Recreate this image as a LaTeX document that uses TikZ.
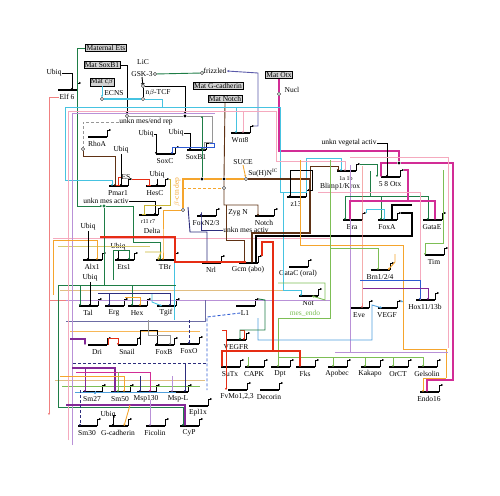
\documentclass[tikz,border=0pt]{standalone}
\usepackage{fontspec}
\setmainfont{Liberation Serif}
\usetikzlibrary{arrows.meta}

\definecolor{cyanl}{RGB}{70,195,225}
\definecolor{pinkl}{RGB}{245,170,190}
\definecolor{salmonl}{RGB}{240,128,128}
\definecolor{magl}{RGB}{210,45,150}
\definecolor{purpl}{RGB}{130,40,150}
\definecolor{lavl}{RGB}{185,145,215}
\definecolor{dgreen}{RGB}{30,125,70}
\definecolor{lgreen}{RGB}{125,190,85}
\definecolor{orangel}{RGB}{245,165,45}
\definecolor{brownl}{RGB}{95,50,20}
\definecolor{redl}{RGB}{230,45,20}
\definecolor{bluel}{RGB}{45,90,210}
\definecolor{navyl}{RGB}{45,45,125}
\definecolor{olivel}{RGB}{200,180,50}
\definecolor{grayl}{RGB}{150,150,150}
\definecolor{slatel}{RGB}{90,90,170}
\definecolor{skyl}{RGB}{80,160,220}
\definecolor{tanl}{RGB}{225,190,130}
\newcommand{\fs}{\fontsize{7.5}{8}\selectfont}
\newcommand{\fss}{\fontsize{6}{6}\selectfont}

\begin{document}
\begin{tikzpicture}[x=1pt,y=-1pt]
  \tikzstyle{lbl}=[font=\fs,inner sep=0.3pt]
  \tikzstyle{matbox}=[draw,fill=gray!35,font=\fs,inner sep=1pt,line width=0.5pt]
  \tikzstyle{genebar}=[line width=1.6pt]
  \tikzstyle{prom}=[line width=0.7pt,-{Stealth[length=2.2pt,width=2.4pt]}]
  \tikzstyle{wire}=[line width=0.9pt]
  \tikzstyle{act}=[wire,-{Stealth[length=2.2pt,width=2.4pt]}]
  \tikzstyle{rep}=[wire,-{Bar[width=3.5pt]}]
  \tikzstyle{hub}=[circle,draw,fill=white,inner sep=0pt,minimum size=3.2pt,line width=0.4pt]
  \tikzstyle{dot}=[circle,fill=black,inner sep=0pt,minimum size=3.4pt]
  \useasboundingbox (0,0) rectangle (500,495);

  % maternal inputs
  \node[matbox] (matets) at (106,48) {Maternal Ets};
  \node[matbox] (matsox) at (102,65) {Mat SoxB1};
  \node[matbox] (matcb) at (102,82) {Mat c$\beta$};
  \node[matbox] (matgcad) at (218,86) {Mat G-cadherin};
  \node[matbox] (matnotch) at (225,99) {Mat Notch};
  \node[matbox] (matotx) at (279,75) {Mat Otx};

  % plain labels
  \foreach \n/\x/\y/\t in {ubq1/54/73/Ubiq, lic/143/62/LiC, gsk/142/74/GSK-3,
      friz/215/71/frizzled, ecns/114/93/ECNS, ntcf/158/93/{n$\beta$-TCF},
      nucl/292/90/Nucl, unkrep/146/122/{unkn mes/end rep}, ubq2/146/134/Ubiq,
      ubq3/176/133/Ubiq, ubq4/121/150/Ubiq, es/126/177/ES, ubq5/157/175/Ubiq,
      unkmes/106/201/{unkn mes activ}, dlt/152/231/Delta, suce/243/162/SUCE,
      suhn/263/173/{Su(H)N$^{\mathrm{IC}}$}, uveg/349/143/{unkn vegetal activ},
      krox/340/187/{Blimp1/Krox}, zygn/238/213/{Zyg N}, unkmes2/246/230/{unkn mes activ},
      ubq6/88/227/Ubiq, ubq7/118/247/Ubiq, ubq8/90/278/Ubiq, ubq9/108/415/Ubiq}
    \node[lbl] (\n) at (\x,\y) {\t};
  \node[lbl,text=lgreen] (mesendo) at (305,313) {mes\_endo};
  \node[lbl,text=orangel,rotate=90] (bctn) at (177,192) {$\beta$-ctn dep};

  % genes
  \foreach \n/\x/\y/\t in {elf6/67/97/{Elf 6}, wnt8/240/140/Wnt8, rhoa/97/144/RhoA,
      soxc/165/161/SoxC, soxb1/196/157/SoxB1, pmar1/118/193/Pmar1, hesc/155/193/HesC,
      delta/148/222/{\fss r11 r7}, z13/296/204/z13, blimp/346/178/{\fss 1a 1b}, otx/390/184/{5 8 Otx},
      foxn/206/223/{FoxN2/3}, notch/264/223/Notch, bra/352/227/Bra, foxa/387/227/FoxA,
      gatae/432/227/GataE, tim/434/262/Tim, alx1/92/267/Alx1, ets1/124/267/Ets1,
      tbr/165/267/TBr, nrl/211/270/Nrl, gcm/248/270/{Gcm (abo)}, gatac/298/274/{GataC (oral)},
      brn/380/277/{Brn1/2/4}, tal/88/313/Tal, erg/114/313/Erg, hex/137/313/Hex,
      tgif/166/313/Tgif, not/308/303/Not, l1/245/313/L1, vegfr/236/347/VEGFR,
      hox/425/307/{Hox11/13b}, eve/359/315/Eve, vegf/387/315/VEGF, dri/97/352/Dri,
      snail/127/352/Snail, foxb/164/352/FoxB, foxo/189/351/FoxO, sutx/230/374/SuTx,
      capk/254/374/CAPK, dpt/280/374/Dpt, fks/305/374/Fks, apobec/337/374/Apobec,
      kakapo/370/374/Kakapo, orct/398/374/OrCT, gelsolin/427/374/Gelsolin,
      sm27/92/399/Sm27, sm50/120/399/Sm50, msp130/146/399/Msp130, mspl/178/399/Msp-L,
      fvmo/237/397/{FvMo1,2,3}, decorin/269/397/Decorin, endo16/429/399/Endo16,
      epl1x/198/413/Epl1x, sm30/87/433/Sm30, gcad/118/433/G-cadherin,
      ficolin/155/433/Ficolin, cyp/189/433/CyP}{
    \node[lbl] (\n) at (\x,\y) {\t};
    \draw[genebar] (\x-9,\y-7) -- (\x+10,\y-7);
    \draw[prom] (\x+10,\y-7) -- (\x+10,\y-14) -- (\x+14,\y-14);
    \coordinate (\n-in) at (\x,\y-7);
    \coordinate (\n-out) at (\x+14,\y-14);
  }

  % hubs
  \node[hub] (hubsox) at (127,116) {};
  \node[hub] (hubcb) at (102,99) {};
  \node[hub] (hubtcf) at (143,99) {};
  \node[hub] (hubx) at (143,86) {};
  \node[hub] (hubgsk) at (155,74) {};
  \node[hub] (hubfz) at (202,73) {};
  \node[hub] (hubotx) at (279,94) {};
  \node[hub] (hubrho) at (83,149) {};
  \node[hub] (hubsu) at (246,179) {};
  \node[hub] (hubbc) at (183,210) {};
  \node[hub] (hubzn) at (224,188) {};
  \node[dot] (topdot) at (185,116) {};
  \node[dot] (bdot1) at (202,179) {};
  \node[dot] (bdot2) at (224,179) {};
  \node[dot,fill=dgreen] (gdot) at (104,206) {};
  \node[dot] (otxdot) at (399,163) {};

  % light background bundles
  \draw[wire,pinkl] (53,238) -- (330,238);
  \draw[wire,olivel!70] (58,246) -- (150,246);
  \draw[wire,lavl] (60,300) -- (330,300);
  \draw[wire,tanl] (60,290) -- (300,290);
  \draw[wire,navyl!70] (66,321) -- (205,321) -- (205,300);
  \draw[wire,orangel!80] (70,331) -- (200,331);
  \draw[wire,tanl] (55,380) -- (205,380);
  \draw[wire,lgreen] (62,386) -- (200,386);
  \draw[wire,skyl] (75,392) -- (176,392);
  \draw[wire,cyanl] (174,240) -- (174,320);
  \draw[wire,salmonl] (49,300) -- (66,300);
  \draw[wire,lavl] (350,165) -- (350,352);

  % top wiring
  \draw[act,dgreen] (matets.west) -| (77,206) -- (gdot);
  \draw[act,dgreen] (gdot) -- (133,206) -- (133,242) -- (160,242) -- (tbr-in -| 160,0);
  \draw[wire,dgreen] (gdot) -- (104,285);
  \draw[wire,dgreen] (58,285) -- (176,285);
  \draw[act,dgreen] (58,285) -- (58,407) -- (183,407) -- (cyp-in -| 183,0);
  \draw[act,dgreen] (80,285) -- (tal-in -| 80,0);
  \draw[act,dgreen] (132,285) -- (hex-in -| 132,0);
  \draw[act] (matsox.east) -| (hubsox);
  \draw[act,cyanl] (matcb.south) -- (hubcb);
  \draw[cyanl,line width=2pt] (hubcb) -- (hubtcf);
  \draw[wire,cyanl] (hubtcf) -- (162,99) -- (162,107);
  \draw[act] (ubq1.east) -| (elf6-in -| 72,0);
  \draw[act,salmonl] (elf6.west) -| (49,415);
  \draw[wire,dgreen] (gsk.east) -- (hubgsk) -- (hubfz) -- (friz.west);
  \draw[rep] (gsk.south) -- (hubx);
  \draw[wire] (hubx) -- (hubtcf);
  \draw[act] (hubx) -| (topdot);
  \draw[act,slatel] (wnt8-out) -| (258,73) -- (friz.east);
  \draw[act,brownl] (matnotch.south) -- (bdot2) -- (hubzn) -- (224,205) -- (258,205) -- (notch-in -| 258,0);
  \draw[wire,magl,line width=1.4pt] (matotx.south) -- (hubotx) -- (279,151) -- (399,151) -- (otxdot);
  \draw[act,magl,line width=1.4pt] (otxdot) -- (381,163) -- (otx-in -| 381,0);
  \draw[act,magl,line width=1.4pt] (otxdot) -- (453,163) -- (453,380) -- (427,380) -- (endo16-in -| 427,0);
  \draw[wire,cyanl] (65,180) -- (65,107) -- (280,107) -- (280,192) -- (306,192) -- (306,158) -- (341,158);
  \draw[act,cyanl] (341,158) -- (blimp-in -| 341,0);
  \draw[act,cyanl] (65,180) -- (112,180) -- (pmar1-in -| 112,0);
  \draw[act,cyanl] (236,107) -- (wnt8-in -| 236,0);
  \draw[act,cyanl] (283,192) -- (283,290) -- (301,290) -- (not-in -| 301,0);
  \draw[wire,pinkl] (68,440) -- (68,111) -- (276,111) -- (276,161) -- (345,161);
  \draw[act,pinkl] (345,161) -- (blimp-in -| 345,0);
  \draw[act,pinkl] (243,111) -- (wnt8-in -| 243,0);
  \draw[wire,lavl] (72,445) -- (72,113) -- (215,113);
  \draw[wire,grayl] (hubsox) -- (topdot);
  \draw[act,grayl] (topdot) -- (212,116) -- (212,142) -- (204,142) -- (soxb1-in -| 204,0);
  \draw[act,dgreen] (bdot1) -- (202,116);
  \draw[act,dgreen] (202,128) -- (soxb1-in -| 202,0);
  \draw[wire,grayl,densely dashed] (unkrep.west) -| (hubrho);
  \draw[act,brownl] (hubrho) -- (83,156) -- (115,156) -- (pmar1-in -| 115,0);
  \draw[act] (ubq2.east) -- (156,134) -- (soxc-in -| 156,0);
  \draw[act] (ubq3.east) -- (190,133) -- (soxb1-in -| 190,0);
  \draw[act] (ubq4.south) -- (pmar1-in -| 121,0);
  \draw[act] (ubq5.south) -- (hesc-in -| 157,0);
  \draw[rep,redl] (es.west) -| (pmar1-in -| 118,0);
  \draw[rep,redl] (pmar1-out) -- (149,179) -- (hesc-in -| 149,0);
  \draw[act,bluel] (soxb1-out) -| (214,147) -| (soxc-in -| 172,0);
  \draw[act] (unkmes.east) -| (delta-in -| 155,0);
  \draw[rep,olivel] (hesc-out) -- (170,179) -- (170,205) -- (144,205) -- (delta-in -| 144,0);

  % beta-catenin and notch signalling
  \draw[wire,orangel,line width=1.4pt] (hubbc) -- (183,179) -- (bdot1) -- (bdot2) -- (hubsu);
  \draw[wire,orangel,densely dashed] (183,188) -- (hubzn);
  \draw[act,orangel] (hubbc) -- (163,210) -- (163,247) -- (tbr-in -| 163,0);
  \draw[act,orangel] (suce.south) -- (hubsu);
  \draw[act,brownl,line width=1.4pt] (hubsu) -- (310,179) -- (310,233) -- (252,233) -- (gcm-in -| 252,0);
  \draw[act,brownl] (310,179) -- (310,166) -- (338,166) -- (blimp-in -| 338,0);
  \draw[act] (z13-out) -- (312,190) -- (312,170) -- (290,170) -- (z13-in -| 290,0);
  \draw[act,navyl] (unkmes2.west) -| (201,212) -- (foxn-in -| 201,0);
  \draw[act,brownl] (226,205) -- (226,240) -- (244,240) -- (gcm-in -| 244,0);
  \draw[act,navyl] (188,207) -- (190,232) -- (207,232) -- (nrl-in -| 207,0);

  % right block
  \draw[act] (uveg.east) -| (otx-in -| 387,0);
  \draw[act,dgreen] (blimp-out) -| (otx-in -| 377,0);
  \draw[act,dgreen] (370,171) -- (370,196) -- (345,196) -- (bra-in -| 345,0);
  \draw[act,dgreen] (370,196) -- (428,196) -- (gatae-in -| 428,0);
  \draw[act,dgreen] (381,196) -- (foxa-in -| 381,0);
  \draw[act,magl,line width=1.2pt] (otx-out) -- (408,170) -- (408,201) -- (350,201) -- (bra-in -| 350,0);
  \draw[act,magl,line width=1.2pt] (408,201) -- (435,201) -- (gatae-in -| 435,0);
  \draw[line width=1.4pt] (foxa-out) -- (412,213) -- (412,236) -- (256,236) -- (gcm-in -| 256,0);
  \draw[rep,line width=1.2pt] (412,205) -- (392,205) -- (foxa-in -| 392,0);
  \draw[act,cyanl] (bra-out) -- (366,209) -- (384,209) -- (foxa-in -| 384,0);
  \draw[wire,pinkl] (318,192) -- (420,192) -- (420,300);
  \draw[act,salmonl] (362,166) -- (362,300) -- (eve-in -| 362,0);
  \draw[wire,pinkl] (350,157) -- (448,157) -- (448,348);
  \draw[act,lgreen] (443,170) -- (443,243) -- (425,243) -- (tim-in -| 425,0);
  \draw[act,lgreen] (330,248) -- (378,248) -- (brn-in -| 378,0);
  \draw[wire,orangel] (300,160) -- (300,245) -- (403,245) -- (403,349) -- (446,349) -- (446,378);
  \draw[act,orangel] (446,378) -- (423,378) -- (endo16-in -| 423,0);
  \draw[act,orangel] (395,254) -- (395,262) -- (brn-in -| 388,0);
  \draw[act,bluel] (360,280) -- (420,280) -- (hox-in -| 420,0);
  \draw[act,purpl] (363,288) -- (428,288) -- (hox-in -| 428,0);
  \draw[act,lgreen] (330,160) -- (330,318) -- (278,318) -- (278,357) -- (423,357) -- (gelsolin-in -| 423,0);
  \draw[act,lgreen] (333,357) -- (apobec-in -| 333,0);
  \draw[act,lgreen] (365,357) -- (kakapo-in -| 365,0);
  \draw[act,lgreen] (393,357) -- (orct-in -| 393,0);
  \draw[act,lgreen] (248,357) -- (capk-in -| 248,0);
  \draw[act,lgreen] (278,357) -- (dpt-in -| 278,0);
  \draw[act,lgreen] (278,283) -- (325,283) -- (325,300) -- (not-in -| 312,0);
  \draw[wire,lavl] (335,352) -- (448,352);
  \draw[act,skyl] (vegf-out) -- (403,302);
  \draw[act,skyl] (258,318) -- (258,340) -- (372,340) -- (372,305) -- (vegf-in -| 382,0);

  % red pigment and gcm
  \draw[act,redl,line width=1.5pt] (gcm-out) -- (262,242) -- (273,242) -- (273,351) -- (300,351) -- (fks-in -| 300,0);
  \draw[act,redl,line width=1.2pt] (273,351) -- (222,351) -- (sutx-in -| 222,0);
  \draw[act,redl,line width=1.5pt] (100,237) -- (175,237) -- (175,262) -- (245,262) -- (gcm-in -| 245,0);
  \draw[act,redl] (240,330) -- (244,330) -- (vegfr-in -| 244,0);
  \draw[act,dgreen] (l1-out) -- (265,300) -- (265,330) -- (240,330) -- (vegfr-in -| 240,0);
  \draw[wire,bluel,densely dashed] (l1.west) -- (207,317) -- (207,390);

  % skeletogenic block
  \draw[act,orangel] (53,295) -- (53,240) -- (97,240) -- (alx1-in -| 97,0);
  \draw[act] (ubq6.south) -- (alx1-in -| 88,0);
  \draw[act] (ubq7.south) -- (ets1-in -| 118,0);
  \draw[act] (ubq8.south) -- (tal-in -| 90,0);
  \draw[act,olivel] (145,252) -- (161,252) -- (tbr-in -| 158,0);
  \draw[act,dgreen] (113,280) -- (113,250) -- (129,250) -- (ets1-in -| 129,0);
  \draw[act,navyl] (98,293) -- (170,293) -- (tgif-in -| 170,0);
  \draw[act,navyl] (109,293) -- (erg-in -| 109,0);
  \draw[act,orangel] (125,297) -- (140,297) -- (hex-in -| 140,0);
  \draw[act,cyanl] (152,294) -- (152,302) -- (tgif-in -| 162,0);
  \draw[act,purpl,line width=1.2pt] (70,339) -- (85,339) -- (dri-in -| 85,0);
  \draw[act,redl] (108,345) -- (108,338) -- (118,338) -- (snail-in -| 118,0);
  \draw[act] (140,345) -- (140,330) -- (157,330) -- (foxb-in -| 157,0);
  \draw[act,grayl] (148,320) -- (148,335) -- (170,335) -- (foxb-in -| 170,0);
  \draw[act,navyl,densely dashed] (189,320) -- (foxo-in -| 189,0);
  \draw[wire,navyl,densely dashed] (73,363) -- (207,363);
  \draw[act,purpl,line width=1.2pt] (72,368) -- (115,368) -- (sm50-in -| 115,0);
  \draw[act,purpl] (85,368) -- (sm27-in -| 85,0);
  \draw[act,magl] (76,372) -- (150,372) -- (msp130-in -| 150,0);
  \draw[act,lgreen] (118,372) -- (sm50-in -| 118,0);
  \draw[act,orangel] (60,376) -- (124,376) -- (sm50-in -| 124,0);
  \draw[act,navyl] (140,376) -- (msp130-in -| 140,0);
  \draw[act,navyl] (185,363) -- (mspl-in -| 185,0);
  \draw[act,lavl] (172,376) -- (mspl-in -| 172,0);
  \draw[act,skyl] (95,392) -- (sm27-in -| 95,0);
  \draw[act,purpl,line width=1.2pt] (66,405) -- (185,405) -- (cyp-in -| 185,0);
  \draw[act,orangel] (130,405) -- (gcad-in -| 124,0);
  \draw[act,lavl] (150,400) -- (ficolin-in -| 150,0);
  \draw[act,navyl,densely dashed] (80,390) -- (sm30-in -| 80,0);
  \draw[act] (ubq9.east) -- (113,415) -- (gcad-in -| 113,0);
  \draw[act,redl] (222,330) -- (226,330) -- (fvmo-in -| 226,0);
\end{tikzpicture}
\end{document}
